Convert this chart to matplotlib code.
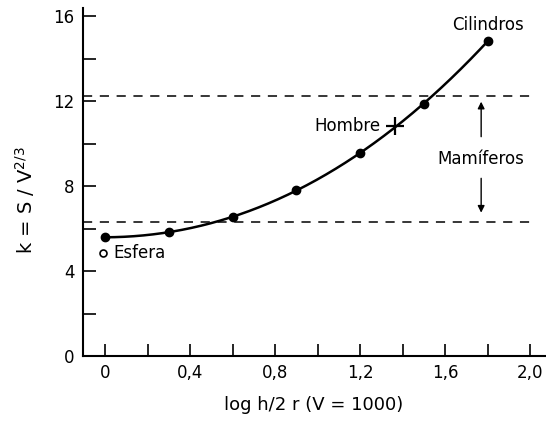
import numpy as np
import matplotlib
matplotlib.use("Agg")
import matplotlib.pyplot as plt

# data
x_pts = [0.0, 0.3, 0.6, 0.9, 1.2, 1.5, 1.8]
k_pts = [5.6, 5.82, 6.54, 7.83, 9.56, 11.87, 14.83]
hombre = (1.365, 10.82)
esfera = (-0.01, 4.84)
mam_low, mam_high = 6.32, 12.26
xticks = [0, 0.4, 0.8, 1.2, 1.6, 2.0]
xticklabels = ["0", "0,4", "0,8", "1,2", "1,6", "2,0"]
yticks = [0, 4, 8, 12, 16]

plt.rcParams['font.family'] = ['DejaVu Sans']
fig = plt.figure(figsize=(5.46, 4.21), dpi=100)
ax = fig.add_axes([0.1515, 0.1544, 0.8465, 0.827])
ax.set_xlim(-0.105, 2.07)
ax.set_ylim(0, 16.4)

# smooth curve
coef = np.polyfit(x_pts, k_pts, 3)
xs = np.linspace(x_pts[0], x_pts[-1], 200)
ax.plot(xs, np.polyval(coef, xs), color='black', lw=1.8)
ax.plot(x_pts, k_pts, 'o', color='black', ms=6)

# dashed bands
for yv in (mam_low, mam_high):
    ax.plot([-0.105, 2.0], [yv, yv], color='black', lw=1.1, dashes=(6, 5))

# Hombre cross
ax.plot([hombre[0]], [hombre[1]], marker='+', ms=13, mew=1.6, color='black')
ax.text(hombre[0] - 0.07, hombre[1], "Hombre", ha='right', va='center', fontsize=12)

# Esfera
ax.plot([esfera[0]], [esfera[1]], 'o', mfc='white', mec='black', ms=5, mew=1.2)
ax.text(esfera[0] + 0.05, esfera[1], "Esfera", ha='left', va='center', fontsize=12)

# Cilindros
ax.text(1.80, 15.6, "Cilindros", ha='center', va='center', fontsize=12)

# Mamiferos arrows
ax.annotate("", xy=(1.77, mam_high - 0.15), xytext=(1.77, 10.2),
            arrowprops=dict(arrowstyle='-|>', color='black', lw=1.0, mutation_scale=10))
ax.annotate("", xy=(1.77, mam_low + 0.3), xytext=(1.77, 8.5),
            arrowprops=dict(arrowstyle='-|>', color='black', lw=1.0, mutation_scale=10))
ax.text(1.77, 9.3, "Mamíferos", ha='center', va='center', fontsize=12)

# axes styling
for s in ('top', 'right'):
    ax.spines[s].set_visible(False)
ax.spines['left'].set_linewidth(1.5)
ax.spines['bottom'].set_linewidth(1.5)
ax.set_xticks(xticks)
ax.set_xticklabels(xticklabels)
ax.set_xticks(np.arange(0.2, 2.0, 0.4), minor=True)
ax.set_yticks(yticks)
ax.set_yticks([2, 6, 10, 14], minor=True)
ax.tick_params(which='both', direction='in', length=9, width=1.2, labelsize=12, pad=6)
ax.set_xlabel("log h/2 r (V = 1000)", fontsize=13)
ax.set_ylabel(r"k = S / V$^{2/3}$", fontsize=14)
ax.xaxis.set_label_coords(0.5, -0.141)
ax.yaxis.set_label_coords(-0.125, 0.448)
ax.xaxis.label.set_va('center')
ax.yaxis.label.set_va('center')

fig.savefig("out.png", dpi=100)
